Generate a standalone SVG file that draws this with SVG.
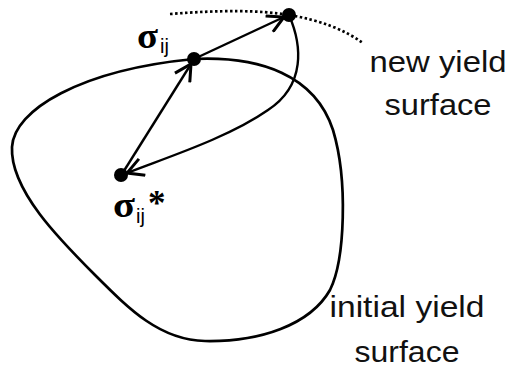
<svg xmlns="http://www.w3.org/2000/svg" width="509" height="369" viewBox="0 0 509 369">
<defs>
<style>
.curve{fill:none;stroke:#000;stroke-width:2.7}
.arr{fill:none;stroke:#000;stroke-width:2.4}
.dot{fill:#000}
.lbl{font-family:"Liberation Sans",Arial,sans-serif;font-size:29px;fill:#111}
.sig{font-family:"Liberation Serif","DejaVu Serif",serif;font-weight:bold;font-size:35px;fill:#000}
.sub{font-family:"Liberation Sans",Arial,sans-serif;font-size:20px;fill:#000}
</style>
<marker id="ah" markerUnits="userSpaceOnUse" markerWidth="20" markerHeight="20" viewBox="0 0 16 16" refX="15" refY="8" orient="auto">
<path d="M2,1 L15,8 L2,15" fill="none" stroke="#000" stroke-width="2.4"/>
</marker>
</defs>
<rect width="509" height="369" fill="#fff"/>
<g id="initial-surface">
<path class="curve" d="M194,59 C260,56 315,75 333,130 C348,180 345,260 330,290 C310,325 260,342 205,341 C160,340 130,310 95,275 C60,240 10,190 12,147 C14,110 80,70 194,59 Z"/>
</g>
<g id="new-surface">
<path class="curve" stroke-dasharray="2.5 2.5" d="M170,14 C220,10 260,10 289,15 C320,20 345,30 363,43"/>
</g>
<g id="connectors">
<line class="arr" x1="122" y1="174" x2="191" y2="64" marker-end="url(#ah)"/>
<line class="arr" x1="194" y1="59" x2="284" y2="17" marker-end="url(#ah)"/>
<path class="arr" d="M289,15 C302,45 306,85 268,110 C228,138 165,158 127,173" marker-end="url(#ah)"/>
</g>
<g id="sigma">
<circle class="dot" cx="194" cy="59" r="7"/>
<text class="sig" x="137" y="48" textLength="21" lengthAdjust="spacingAndGlyphs">σ</text>
<text class="sub" x="160" y="53">ij</text>
</g>
<g id="top-point">
<circle class="dot" cx="289" cy="15" r="7"/>
</g>
<g id="sigma-star">
<circle class="dot" cx="121" cy="175" r="7"/>
<text class="sig" x="113" y="217" textLength="22" lengthAdjust="spacingAndGlyphs">σ</text>
<text class="sub" x="136" y="223">ij</text>
<text class="sig" x="148" y="215" font-size="28">*</text>
</g>
<g id="labels">
<text class="lbl" x="438" y="72" text-anchor="middle" textLength="137" lengthAdjust="spacingAndGlyphs">new yield</text>
<text class="lbl" x="438" y="115" text-anchor="middle" textLength="107" lengthAdjust="spacingAndGlyphs">surface</text>
<text class="lbl" x="407" y="317" text-anchor="middle" textLength="155" lengthAdjust="spacingAndGlyphs">initial yield</text>
<text class="lbl" x="407" y="362" text-anchor="middle" textLength="105" lengthAdjust="spacingAndGlyphs">surface</text>
</g>
</svg>
